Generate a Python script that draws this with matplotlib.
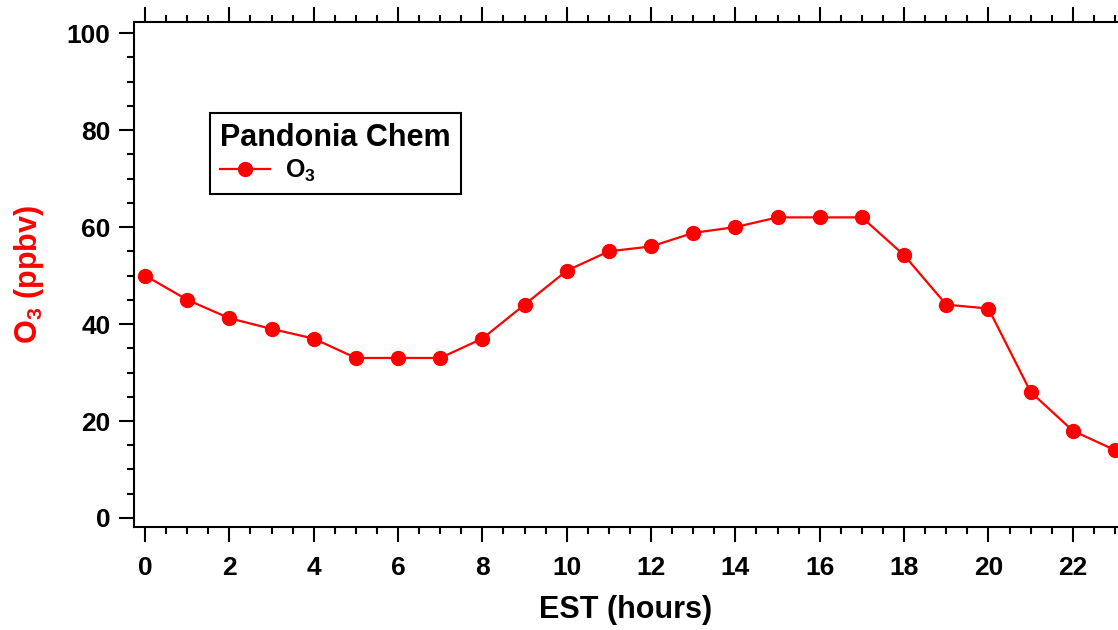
import matplotlib
matplotlib.use("Agg")
import matplotlib.pyplot as plt
from matplotlib.ticker import MultipleLocator

plt.rcParams["font.family"] = ["Liberation Sans", "DejaVu Sans"]
plt.rcParams["font.weight"] = "bold"
plt.rcParams["mathtext.fontset"] = "custom"
plt.rcParams["mathtext.rm"] = "Liberation Sans:bold"
plt.rcParams["mathtext.bf"] = "Liberation Sans:bold"
plt.rcParams["mathtext.it"] = "Liberation Sans:bold"
plt.rcParams["mathtext.default"] = "bf"

# Hourly ozone diurnal profile
hours = list(range(24))
o3 = [50, 45, 41.2, 39, 37, 33, 33, 33, 37, 44, 51, 55,
      56, 58.8, 60, 62, 62, 62, 54.2, 44, 43.2, 26, 18, 14]

fig = plt.figure(figsize=(11.18, 6.3), dpi=100)
ax = fig.add_axes([0.1199, 0.1635, 0.880, 0.8016])

ax.plot(hours, o3, color="red", lw=1.6, marker="o", markersize=10, label="O$_3$")

ax.set_xlim(-0.26, 23.07)
ax.set_ylim(-1.86, 102.3)

# Igor-style axes: ticks outside, top axis ticks without labels
ax.xaxis.set_major_locator(MultipleLocator(2))
ax.xaxis.set_minor_locator(MultipleLocator(0.5))
ax.yaxis.set_major_locator(MultipleLocator(20))
ax.yaxis.set_minor_locator(MultipleLocator(5))
ax.tick_params(which="both", direction="out", width=1.5, top=True, right=False)
ax.tick_params(which="major", length=11, labelsize=19, pad=6)
ax.tick_params(axis="x", which="major", pad=10)
ax.tick_params(which="minor", length=5)
for side in ["left", "bottom", "top"]:
    ax.spines[side].set_linewidth(1.5)
ax.spines["right"].set_visible(False)

ax.set_xlabel("EST (hours)", fontsize=22, fontweight="bold", labelpad=11)
ax.set_ylabel("O$_3$ (ppbv)", fontsize=22, fontweight="bold", color="red", labelpad=15)

leg = ax.legend(title="Pandonia Chem", loc="upper left",
                bbox_to_anchor=(0.1878, 0.8206), bbox_transform=fig.transFigure,
                fontsize=18, title_fontsize=22, fancybox=False, framealpha=1,
                edgecolor="black", handlelength=2.0, borderpad=0.4,
                handletextpad=0.6, borderaxespad=0, labelspacing=0.2)
leg._legend_box.align = "left"
leg.get_title().set_fontweight("bold")
leg.get_frame().set_linewidth(1.5)

fig.savefig("out.png", dpi=100)
